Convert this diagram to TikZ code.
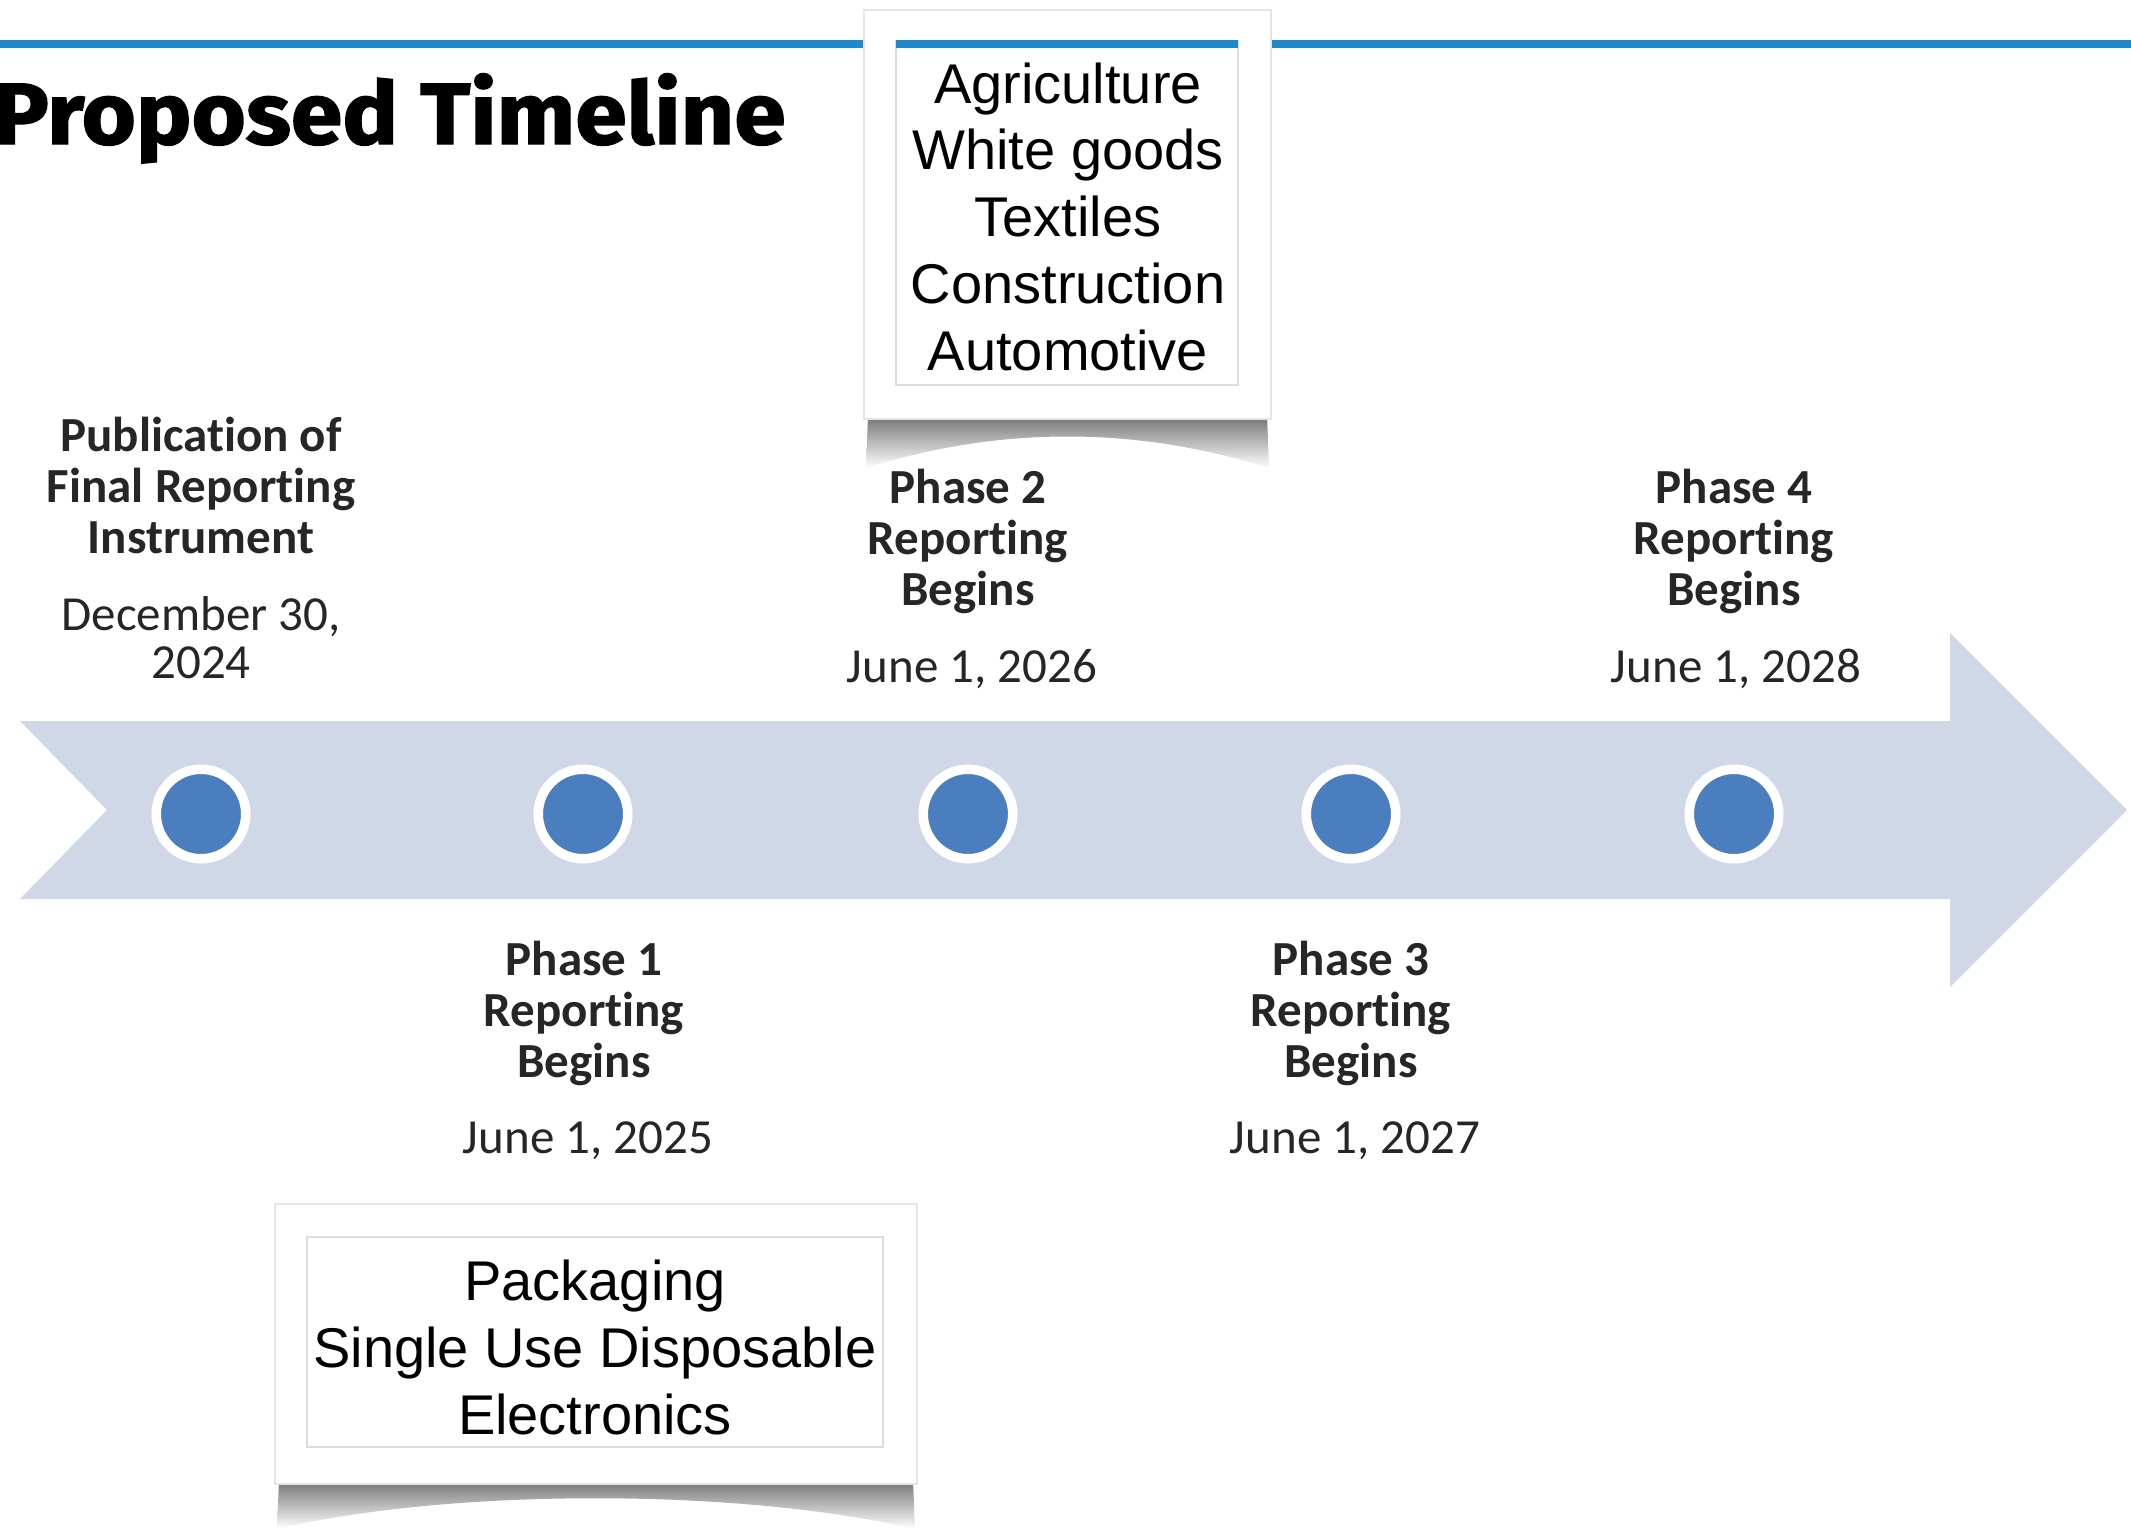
\documentclass[tikz,border=0pt]{standalone}
\usepackage{fontspec}
\setmainfont{Carlito}[Ligatures=NoCommon]
\newfontfamily\boxfont{Liberation Sans}
\newfontfamily\titlefont{Fira Sans}[BoldFeatures={FakeBold=1.6, FakeStretch=1.07}]
\definecolor{bandcol}{HTML}{D0D8E8}
\definecolor{dotcol}{HTML}{4A7EBF}
\definecolor{linecol}{HTML}{2288CC}
\definecolor{framecol}{HTML}{DDDDDD}
\tikzset{
  lbl/.style={align=center, inner sep=0pt, font=\fontsize{49}{51}\selectfont\bfseries, text=black!85},
  datelbl/.style={align=center, inner sep=0pt, font=\fontsize{49}{48}\selectfont, text=black!85},
  dot/.style={circle, minimum size=89.5pt, inner sep=0pt, line width=9.5pt, draw=white, fill=dotcol},
  boxtext/.style={align=center, inner sep=0pt, font=\boxfont\fontsize{56}{66.7}\selectfont, text=black},
  outerbox/.style={fill=white, draw=black!10, line width=2pt},
  innerbox/.style={draw=framecol, line width=1.5pt},
  blueline/.style={draw=linecol, line width=8pt},
  shadowshape/.style={top color=black!65, bottom color=white, draw=none, opacity=0.85}
}
\begin{document}
\begin{tikzpicture}[x=1pt,y=-1pt]
\useasboundingbox (0,0) rectangle (2131,1529);
\fill[white] (0,0) rectangle (2131,1529);

% header line
\draw[blueline] (0,44) -- (864,44);
\draw[blueline] (1271,44) -- (2131,44);

% title
\node[anchor=base east, inner sep=0pt, font=\titlefont\bfseries\fontsize{87}{90}\selectfont] (title) at (786,144) {Proposed Timeline};

% timeline arrow
\fill[bandcol] (20,721) -- (1950,721) -- (1950,633) -- (2127,810) -- (1950,987) -- (1950,899) -- (20,899) -- (107,810) -- cycle;

% dots
\node[dot] (d0) at (201,814) {};
\node[dot] (d1) at (583,814) {};
\node[dot] (d2) at (968,814) {};
\node[dot] (d3) at (1351,814) {};
\node[dot] (d4) at (1734,814) {};

% labels above (anchor base = last line baseline)
\node[lbl, anchor=base] (pubt) at (201,553) {Publication of\\Final Reporting\\Instrument};
\node[datelbl, anchor=base] (pubd) at (201,678) {December 30,\\2024};
\node[lbl, anchor=base] (p2t) at (968,605) {Phase 2\\Reporting\\Begins};
\node[datelbl, anchor=base] (p2d) at (972,682) {June 1, 2026};
\node[lbl, anchor=base] (p4t) at (1734,605) {Phase 4\\Reporting\\Begins};
\node[datelbl, anchor=base] (p4d) at (1736,682) {June 1, 2028};
% labels below
\node[lbl, anchor=base] (p1t) at (584,1077) {Phase 1\\Reporting\\Begins};
\node[datelbl, anchor=base] (p1d) at (588,1153) {June 1, 2025};
\node[lbl, anchor=base] (p3t) at (1351,1077) {Phase 3\\Reporting\\Begins};
\node[datelbl, anchor=base] (p3d) at (1355,1153) {June 1, 2027};

% top box
\shade[shadowshape] (868,415) -- (866,468) .. controls (1000,426) and (1135,426) .. (1269,468) -- (1267,415) -- cycle;
\draw[outerbox] (864,10) rectangle (1271,419);
\draw[innerbox] (896,41) rectangle (1238,385);
\draw[blueline] (896,44) -- (1238,44);
\node[boxtext, anchor=base] (topt) at (1068,370) {Agriculture\\White goods\\Textiles\\Construction\\Automotive};

% bottom box
\shade[shadowshape] (279,1480) -- (277,1529) .. controls (450,1488) and (740,1488) .. (915,1529) -- (913,1480) -- cycle;
\draw[outerbox] (275,1204) rectangle (917,1484);
\draw[innerbox] (307,1237) rectangle (883,1447);
\node[boxtext, anchor=base] (bott) at (595,1434) {Packaging\\Single Use Disposable\\Electronics};
\end{tikzpicture}
\end{document}
